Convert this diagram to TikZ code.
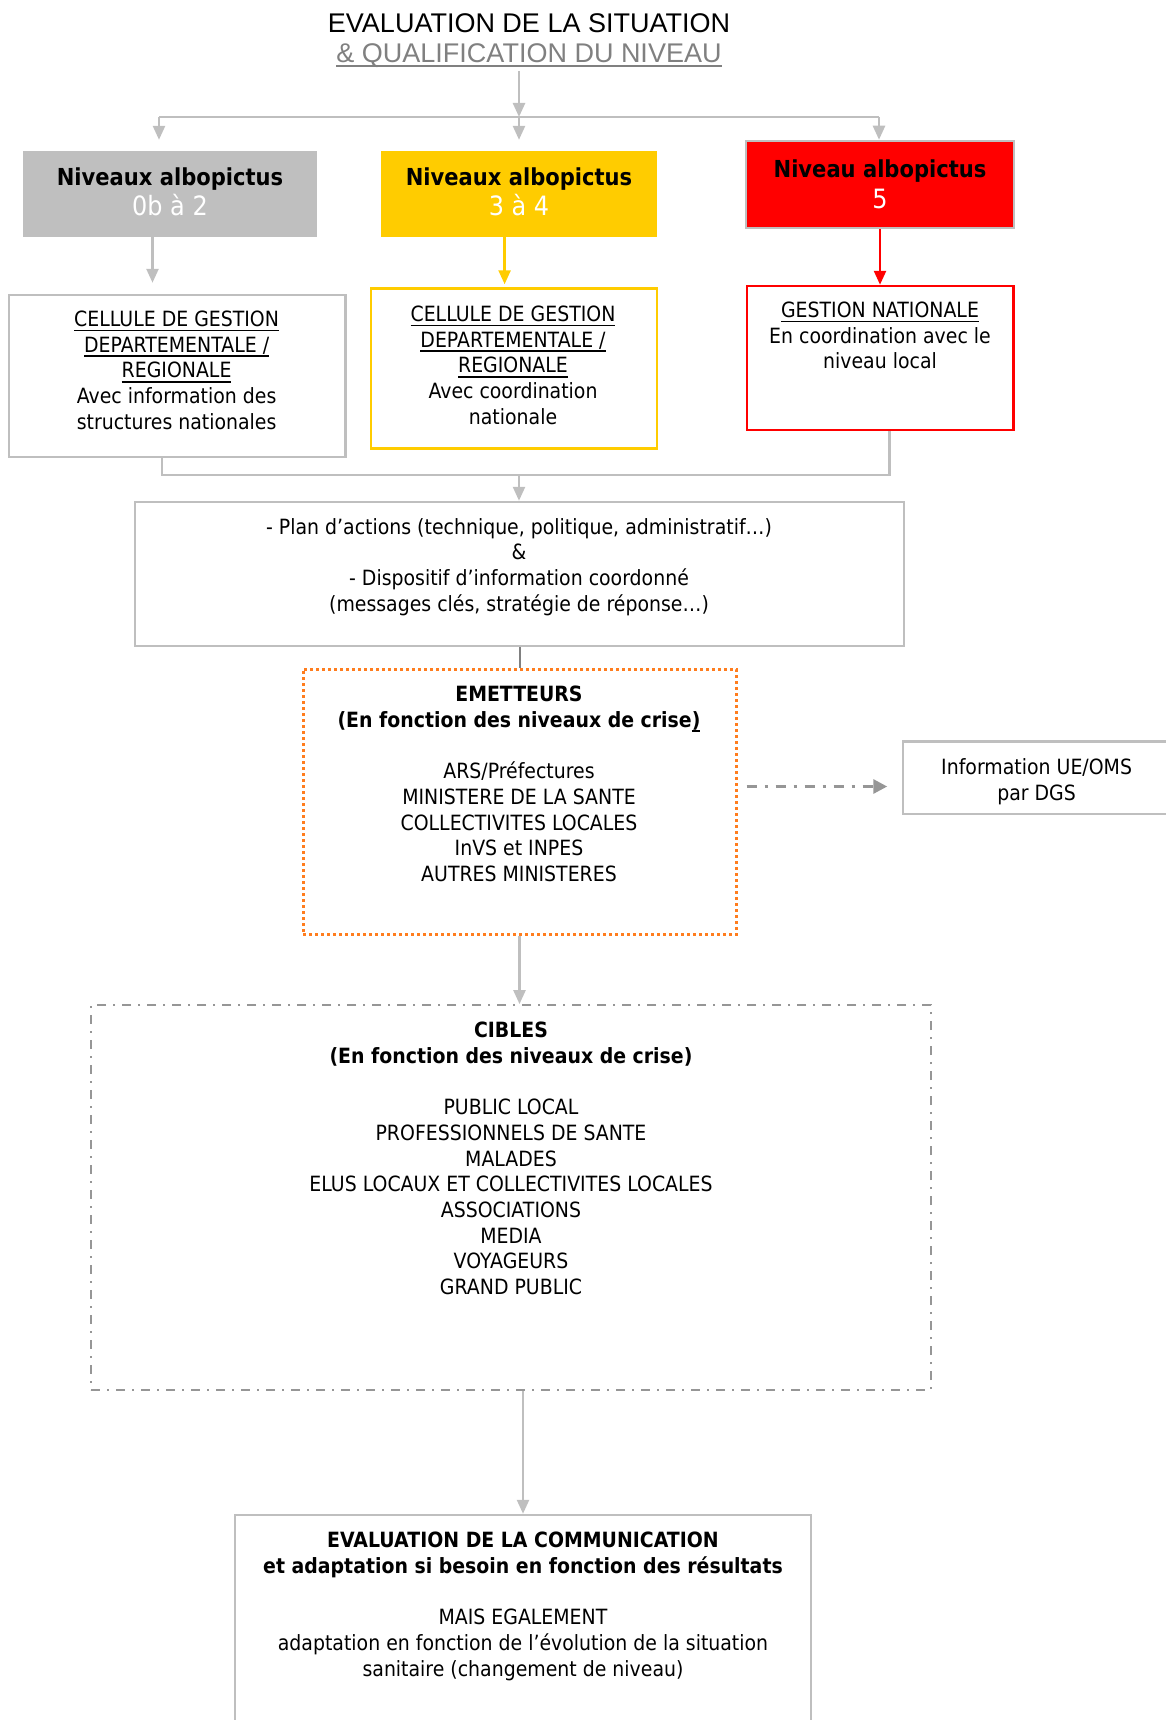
\documentclass[tikz,border=0pt]{standalone}
\usepackage{fontspec}
\setmainfont[FakeStretch=0.9]{DejaVu Sans}
\newfontfamily\titlefont{Liberation Sans}
\usetikzlibrary{arrows.meta}

\definecolor{lgrey}{RGB}{191,191,191}
\definecolor{dgrey}{RGB}{128,128,128}
\definecolor{mgrey}{RGB}{150,150,150}
\definecolor{gold}{RGB}{255,204,0}
\definecolor{myred}{RGB}{255,0,0}
\definecolor{myorange}{RGB}{255,125,30}

\newcommand{\mlines}[1]{\begin{tabular}[t]{@{}c@{}}#1\end{tabular}}
\newcommand{\myul}[1]{\leavevmode\setbox0\hbox{#1}\rlap{\vrule height -3pt depth 4.6pt width \wd0}\box0}

\tikzset{
  frame/.style={rectangle, draw=lgrey, line width=2.5pt, inner sep=0pt},
  fillbox/.style={rectangle, inner sep=0pt},
  txt/.style={inner sep=0pt, anchor=base, font=\fontsize{21}{25.7}\selectfont},
  head/.style={inner sep=0pt, anchor=base, font=\fontsize{23.4}{30}\selectfont},
  headnum/.style={inner sep=0pt, anchor=base, text=white, font=\fontsize{26.6}{30}\selectfont},
  gline/.style={draw=lgrey, line width=2.5pt},
  garrow/.style={gline, -{Triangle[length=14pt,width=12pt]}},
  ddarrow/.style={draw=mgrey, line width=3pt, dash pattern=on 10pt off 8pt on 3pt off 8pt, -{Triangle[length=14pt,width=14pt]}},
}

\begin{document}
\begin{tikzpicture}[x=1pt,y=-1pt]
\useasboundingbox (0,0) rectangle (1166,1720);
\clip (0,0) rectangle (1166,1720);

% title
\node[inner sep=0pt, anchor=base] (title) at (529,32.6)
  {\titlefont\fontsize{27}{29.5}\selectfont\mlines{EVALUATION DE LA SITUATION\\ \color{dgrey}\myul{\&~QUALIFICATION DU NIVEAU}}};

\coordinate (split) at (519,117);
\coordinate (hl) at (159,117);
\coordinate (hr) at (879,117);

% level boxes
\node[fillbox, fill=lgrey, minimum width=294pt, minimum height=86pt] (lev1) at (170,194) {};
\node[fillbox, fill=gold, minimum width=276pt, minimum height=86pt] (lev2) at (519,194) {};
\node[frame, fill=myred, minimum width=268pt, minimum height=87pt] (lev3) at (880,184.5) {};

\node[head] (lev1a) at (170,186) {\textbf{Niveaux albopictus}};
\node[headnum] (lev1b) at (170,216) {0b à 2};
\node[head] (lev2a) at (519,186) {\textbf{Niveaux albopictus}};
\node[headnum] (lev2b) at (519,216) {3 à 4};
\node[head] (lev3a) at (880,178) {\textbf{Niveau albopictus}};
\node[headnum] (lev3b) at (880,209) {5};

% management boxes
\node[frame, minimum width=336.5pt, minimum height=162pt] (cellA) at (177.25,376) {};
\node[frame, draw=gold, minimum width=286pt, minimum height=160pt] (cellB) at (514,368.5) {};
\node[frame, draw=myred, minimum width=266.5pt, minimum height=144pt] (cellC) at (880.25,358) {};

\node[txt] (cellAt) at (176.6,326.5) {\mlines{\myul{CELLULE DE GESTION}\\ \myul{DEPARTEMENTALE /}\\ \myul{REGIONALE}\\ Avec information des\\ structures nationales}};
\node[txt] (cellBt) at (513,321.5) {\mlines{\myul{CELLULE DE GESTION}\\ \myul{DEPARTEMENTALE /}\\ \myul{REGIONALE}\\ Avec coordination\\ nationale}};
\node[txt] (cellCt) at (880,317.5) {\mlines{\myul{GESTION NATIONALE}\\ En coordination avec le\\ niveau local}};

% plan box
\node[frame, minimum width=769pt, minimum height=144pt] (plan) at (519.5,574) {};
\node[txt] (plant) at (519,534) {\mlines{- Plan d’actions (technique, politique, administratif…)\\ \&\\ - Dispositif d’information coordonné\\ (messages clés, stratégie de réponse…)}};

% emetteurs
\node[rectangle, inner sep=0pt, draw=myorange, line width=3pt, dash pattern=on 3pt off 3pt, minimum width=433pt, minimum height=265.6pt] (emet) at (519.5,801.8) {};
\node[txt] (emett) at (519,701.5) {\mlines{\textbf{EMETTEURS}\\ \textbf{(En fonction des niveaux de crise\myul{)}}\\ \\ ARS/Préfectures\\ MINISTERE DE LA SANTE\\ COLLECTIVITES LOCALES\\ InVS et INPES\\ AUTRES MINISTERES}};

% info box
\node[frame, minimum width=277pt, minimum height=72.5pt] (info) at (1041.5,777.75) {};
\node[txt] (infot) at (1036.6,774.5) {\mlines{Information UE/OMS\\ par DGS}};

% cibles
\node[rectangle, inner sep=0pt, draw=mgrey, line width=1.8pt, dash pattern=on 9pt off 7pt on 2pt off 7pt, minimum width=840pt, minimum height=385pt] (cibles) at (511,1197.5) {};
\node[txt] (ciblest) at (511,1037.5) {\mlines{\textbf{CIBLES}\\ \textbf{(En fonction des niveaux de crise)}\\ \\ PUBLIC LOCAL\\ PROFESSIONNELS DE SANTE\\ MALADES\\ ELUS LOCAUX ET COLLECTIVITES LOCALES\\ ASSOCIATIONS\\ MEDIA\\ VOYAGEURS\\ GRAND PUBLIC}};

% evaluation
\node[frame, minimum width=576pt, minimum height=245pt] (eval) at (523,1637.5) {};
\node[txt] (evalt) at (523,1547.5) {\mlines{\textbf{EVALUATION DE LA COMMUNICATION}\\ \textbf{et adaptation si besoin en fonction des résultats}\\ \\ MAIS EGALEMENT\\ adaptation en fonction de l’évolution de la situation\\ sanitaire (changement de niveau)}};

% connectors
\draw[garrow] (title.south -| split) -- (split);
\draw[gline] (hl) -- (hr);
\draw[garrow, shorten >=11pt] (hl) -- (hl |- lev1.north);
\draw[garrow, shorten >=11pt] (split) -- (split |- lev2.north);
\draw[garrow] (hr) -- (hr |- lev3.north);

\draw[garrow, shorten >=11pt] ([xshift=-17.5pt]lev1.south) -- ([xshift=-17.5pt]lev1.south |- cellA.north);
\draw[garrow, draw=gold, shorten >=3pt] ([xshift=-14.4pt]lev2.south) -- ([xshift=-14.4pt]lev2.south |- cellB.north);
\draw[garrow, draw=myred] (lev3.south) -- (lev3.south |- cellC.north);

\coordinate (mA) at ([xshift=-15.25pt]cellA.south);
\coordinate (mC) at ([xshift=9.35pt]cellC.south);
\coordinate (mid) at (519,475);
\draw[gline] (mA) |- (mid) -| (mC);
\draw[garrow] (mid) -- (mid |- plan.north);

\draw[draw=dgrey, line width=2pt] (plan.south) -- (plan.south |- emet.north);

\coordinate (dd) at (0,786.5);
\draw[ddarrow, shorten <=9pt, shorten >=14.5pt] (emet.east |- dd) -- (info.west |- dd);

\draw[garrow] (emet.south) -- (emet.south |- cibles.north);
\draw[garrow] (eval.north |- cibles.south) -- (eval.north);
\end{tikzpicture}
\end{document}
